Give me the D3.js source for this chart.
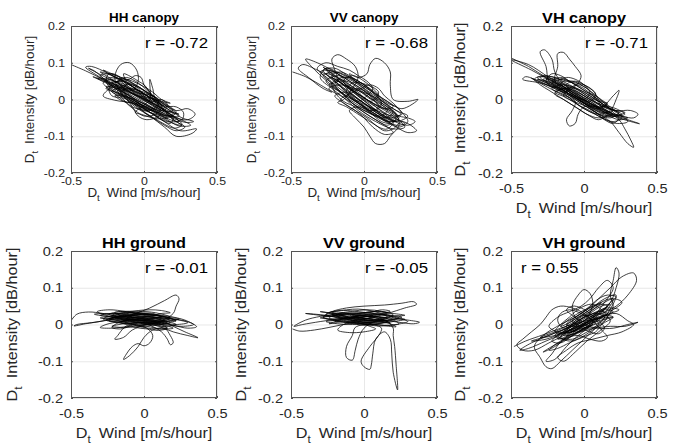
<!DOCTYPE html>
<html><head><meta charset="utf-8">
<script src="https://cdn.jsdelivr.net/npm/d3@7"></script>
<style>
body{margin:0;background:#fff}
text{font-family:"Liberation Sans",Arial,Helvetica,sans-serif;white-space:pre}
</style>
</head><body><svg id="c" width="681" height="445"></svg>
<script>
const xTicks=[-0.5,0,0.5];
const yTicks=[-0.2,-0.1,0,0.1,0.2];
const xTickLabels=["-0.5","0","0.5"];
const yTickLabels=["-0.2","-0.1","0","0.1","0.2"];
const titles=["HH canopy","VV canopy","VH canopy","HH ground","VV ground","VH ground"];
const rLabels=["r = -0.72","r = -0.68","r = -0.71","r = -0.01","r = -0.05","r = 0.55"];

const hhCanopy=[[-0.50,0.095],[-0.40,0.078],[-0.28,0.055],[-0.15,0.030],[-0.02,0.005],[0.10,-0.020],[0.20,-0.045],[0.24,-0.060],[0.18,-0.055],[0.06,-0.030],[-0.06,-0.005],[-0.18,0.025],[-0.30,0.060],[-0.40,0.088],[-0.36,0.090],[-0.24,0.070],[-0.12,0.045],[0.00,0.015],[0.12,-0.010],[0.22,-0.030],[0.30,-0.025],[0.35,-0.040],[0.30,-0.055],[0.18,-0.045],[0.05,-0.020],[-0.08,0.010],[-0.20,0.035],[-0.28,0.010],[-0.20,-0.002],[-0.08,-0.010],[0.02,-0.030],[0.12,-0.055],[0.25,-0.085],[0.36,-0.080],[0.33,-0.092],[0.22,-0.100],[0.14,-0.075],[0.04,-0.045],[-0.06,-0.020],[-0.15,0.015],[-0.20,0.060],[-0.16,0.095],[-0.10,0.100],[-0.05,0.080],[-0.04,0.050],[-0.08,0.025],[-0.16,0.035],[-0.26,0.050],[-0.35,0.062],[-0.26,0.045],[-0.12,0.015],[0.00,-0.012],[0.10,-0.035],[0.16,-0.050],[0.08,-0.052],[-0.02,-0.040],[-0.06,-0.035],[-0.01,-0.018],[0.04,0.000],[0.04,0.040],[0.04,0.055],[0.06,0.030],[0.08,0.000],[0.14,-0.018],[0.22,-0.020],[0.27,-0.035],[0.26,-0.055],[0.16,-0.060],[0.06,-0.040],[-0.04,-0.010],[-0.14,0.020],[-0.24,0.045],[-0.34,0.078],[-0.38,0.085],[-0.30,0.068],[-0.18,0.045],[-0.06,0.020],[0.06,-0.008],[0.16,-0.035],[0.26,-0.068],[0.21,-0.078],[0.10,-0.058],[-0.02,-0.028],[-0.12,0.002],[-0.22,0.022],[-0.14,0.032],[-0.02,0.008],[0.08,-0.015],[0.18,-0.040],[0.28,-0.060],[0.32,-0.070],[0.24,-0.072],[0.12,-0.045],[0.00,-0.020],[-0.10,0.012],[-0.22,0.040],[-0.32,0.058],[-0.22,0.052],[-0.10,0.030],[0.02,0.010],[0.14,-0.012],[0.20,-0.030],[0.12,-0.030],[0.00,-0.002],[-0.12,0.028],[-0.24,0.060],[-0.30,0.075],[-0.20,0.062],[-0.08,0.040],[0.04,0.015],[0.16,-0.020],[0.24,-0.045],[0.16,-0.045],[0.04,-0.025],[-0.08,0.000],[-0.18,0.018],[-0.26,0.030],[-0.18,0.040],[-0.05,0.020],[0.06,-0.004],[0.18,-0.030],[0.26,-0.050],[0.34,-0.060],[0.28,-0.062],[0.14,-0.040],[0.02,-0.015],[-0.10,0.005],[-0.20,0.010],[-0.14,-0.005],[-0.04,-0.012],[0.06,-0.025],[0.12,-0.030],[0.05,-0.010],[-0.06,0.015],[-0.16,0.050],[-0.28,0.080],[-0.22,0.070],[-0.10,0.050],[0.00,0.025],[0.08,0.005],
[0,.02],[-.08,.03],[-.16,.045],[-.22,.05],[-.18,.035],[-.1,.02],[-.02,0],[.06,-.015],[.12,-.03],[.18,-.045],[.12,-.04],[.04,-.02],[-.04,-.005],[-.12,.015],[-.2,.03],[-.26,.055],[-.2,.06],[-.12,.045],[-.04,.025],[.04,.005],[.1,-.01],[.16,-.025],[.2,-.04],[.14,-.045],[.06,-.03],[-.02,-.015],[-.1,.005],[-.18,.02],[-.24,.04],[-.16,.05],[-.08,.035],[0,.015],[.08,-.005],[.14,-.02],[.1,-.035],[.02,-.025],[-.06,-.01],[-.14,.01],[-.22,.025],[-.28,.045],[-.22,.055],[-.14,.055],[-.06,.04],[.02,.02],[.1,0],[.18,-.02],[.22,-.035],[.16,-.05],[.08,-.04],[0,-.03],[-.08,-.02],[-.14,0],[-.18,.025],[-.12,.04],[-.04,.035],[.04,.01],[.1,-.015],[.06,-.03],[-.02,-.02],[-.1,-.005],[-.16,.02],[-.1,.03],[-.02,.02],[.06,0],[.14,-.03],[.2,-.055],[.26,-.07],[.2,-.065],[.12,-.05],[.04,-.035],[-.04,-.015],[-.12,.01],[-.2,.04],[-.3,.065],[-.24,.07],[-.16,.06],[-.08,.05],[0,.035],[.06,.02],[.12,0],[.18,-.01],[.12,-.005],[.04,.005],[-.04,.01],[-.12,.025],[-.18,.05],[-.12,.06],[-.04,.045],[.02,.025],[.08,0],[.12,-.02],[.08,-.04],[0,-.045],[-.06,-.03],[-.12,-.01],[-.2,.015],[-.26,.035],[-.18,.03],[-.08,.015],[.02,-.005],[.1,-.025],[.18,-.035],[.24,-.04],[.16,-.03],[.06,-.01],[-.04,.01],[-.14,.03],[-.2,.045],[-.14,.05],[-.06,.03],[.02,.01],[.06,-.01],
[.02,0],[-.04,.03],[-.1,.045],[-.14,.03],[-.1,0],[-.04,-.02],[.02,-.03],[.08,-.02],[.1,0],[.06,.01],[0,.015],[-.06,.02],[-.12,.04],[-.18,.065],[-.24,.07],[-.26,.05],[-.2,.02],[-.12,.005],[-.06,-.01],[0,-.025],[.06,-.04],[.14,-.06],[.18,-.065],[.2,-.05],[.14,-.03],[.08,-.01],[.04,.02],[0,.04],[-.04,.05],[-.08,.06],[-.14,.07],[-.12,.05],[-.06,.03],[0,.005],[.06,-.005],[.12,0],[.16,-.015],[.1,-.045],[.02,-.055],[-.04,-.045],[-.08,-.02],[-.12,0],[-.16,.005],[-.22,.01],[-.24,.03],[-.18,.05],[-.1,.055],[-.06,.065],[-.02,.06],[0,.04],[.04,.02],[.1,-.005],[.16,-.04],[.22,-.06],[.28,-.075],[.22,-.085],[.14,-.07],[.06,-.05],[0,-.035],[-.06,-.005]];

const vvCanopy=[[-0.49,0.075],[-0.40,0.062],[-0.30,0.040],[-0.22,0.020],[-0.28,0.030],[-0.38,0.060],[-0.45,0.085],[-0.42,0.095],[-0.32,0.080],[-0.20,0.055],[-0.10,0.030],[0.00,0.005],[0.10,-0.025],[0.20,-0.050],[0.28,-0.065],[0.22,-0.070],[0.12,-0.050],[0.00,-0.020],[-0.12,0.010],[-0.24,0.045],[-0.36,0.090],[-0.40,0.110],[-0.32,0.100],[-0.20,0.075],[-0.08,0.045],[0.04,0.012],[0.14,-0.020],[0.24,-0.045],[0.30,-0.050],[0.35,-0.060],[0.30,-0.070],[0.18,-0.055],[0.06,-0.030],[-0.06,-0.005],[-0.16,0.020],[-0.24,0.040],[-0.18,0.050],[-0.20,0.080],[-0.22,0.110],[-0.18,0.122],[-0.12,0.110],[-0.06,0.090],[-0.04,0.060],[-0.08,0.030],[-0.14,0.000],[-0.18,-0.008],[-0.12,-0.020],[-0.02,-0.045],[0.08,-0.070],[0.14,-0.085],[0.20,-0.080],[0.26,-0.060],[0.36,-0.085],[0.30,-0.090],[0.22,-0.075],[0.10,-0.050],[-0.02,-0.025],[-0.12,0.000],[-0.22,0.030],[-0.30,0.060],[-0.26,0.085],[-0.16,0.070],[-0.04,0.045],[0.06,0.020],[0.16,-0.005],[0.26,-0.025],[0.37,0.000],[0.30,-0.005],[0.20,0.000],[0.18,0.040],[0.18,0.075],[0.14,0.100],[0.08,0.112],[0.04,0.095],[0.02,0.070],[-0.04,0.060],[-0.10,0.070],[-0.06,0.050],[0.02,0.025],[0.12,-0.002],[0.22,-0.030],[0.30,-0.045],[0.22,-0.060],[0.10,-0.040],[0.00,-0.010],[-0.10,0.020],[-0.20,0.050],[-0.28,0.080],[-0.20,0.085],[-0.08,0.055],[0.04,0.025],[0.14,-0.010],[0.22,-0.040],[0.24,-0.070],[0.18,-0.100],[0.14,-0.120],[0.08,-0.120],[0.04,-0.100],[0.00,-0.075],[-0.06,-0.050],[-0.10,-0.030],[-0.04,-0.020],[0.06,-0.035],[0.16,-0.060],[0.24,-0.055],[0.16,-0.030],[0.04,-0.005],[-0.08,0.025],[-0.18,0.060],[-0.28,0.088],[-0.22,0.070],[-0.12,0.040],[-0.02,0.010],[0.08,-0.015],[0.20,-0.045],[0.28,-0.075],[0.20,-0.080],[0.08,-0.060],[-0.04,-0.030],[-0.14,0.005],[-0.24,0.030],[-0.16,0.040],[-0.04,0.025],[0.08,0.005],[0.18,-0.020],[0.25,-0.040],[0.18,-0.050],[0.06,-0.025],[-0.06,0.000],[-0.16,0.035],[-0.26,0.070],[-0.18,0.060],[-0.06,0.030],[0.06,0.000],[0.16,-0.030],[0.10,-0.045],[-0.02,-0.015],[-0.12,0.020],[-0.08,0.045],[0.02,0.040],[0.10,0.020],[0.06,0.000],
[-.02,.02],[-.1,.04],[-.18,.07],[-.26,.08],[-.2,.06],[-.12,.035],[-.04,.01],[.04,-.015],[.12,-.04],[.2,-.06],[.16,-.07],[.08,-.055],[0,-.035],[-.08,-.01],[-.16,.02],[-.24,.055],[-.3,.075],[-.24,.08],[-.14,.06],[-.06,.04],[.02,.02],[.1,-.005],[.18,-.025],[.24,-.05],[.18,-.06],[.1,-.045],[.02,-.025],[-.06,0],[-.14,.03],[-.2,.045],[-.12,.05],[-.04,.03],[.04,.005],[.12,-.02],[.2,-.035],[.14,-.05],[.06,-.04],[-.02,-.02],[-.1,0],[-.18,.025],[-.26,.05],[-.18,.065],[-.1,.055],[-.02,.035],[.06,.01],[.14,-.015],[.22,-.045],[.16,-.08],[.1,-.075],[.02,-.05],[-.06,-.03],[-.14,-.01],[-.2,.01],[-.12,.02],[-.04,0],[.04,-.02],[.12,-.045],[.18,-.065],[.12,-.06],[.04,-.035],[-.04,-.01],[-.12,.015],[-.2,.04],[-.28,.065],[-.2,.075],[-.12,.065],[-.04,.05],[.04,.03],[.12,.005],[.2,-.02],[.14,-.025],[.06,-.01],[-.02,.01],[-.1,.03],[-.18,.055],[-.1,.06],[-.02,.045],[.06,.02],[.12,-.01],[.08,-.03],[0,-.01],[-.08,.015],[-.16,.045],[-.22,.06],[-.14,.04],[-.06,.015],[.02,-.01],[.1,-.035],[.16,-.05],[.22,-.06],[.16,-.045],[.08,-.02],[0,0],[-.08,.025],[-.14,.05],[-.08,.065],[0,.05],[.06,.03],[.1,.01],[.04,-.005],[-.04,.02],
[-.1,.035],[-.16,.055],[-.22,.045],[-.2,.02],[-.14,-.005],[-.06,-.02],[.02,-.04],[.1,-.06],[.16,-.075],[.2,-.09],[.14,-.095],[.06,-.075],[0,-.05],[-.06,-.03],[-.12,-.015],[-.16,0],[-.1,.015],[-.02,.03],[.04,.04],[.1,.03],[.14,.01],[.2,-.01],[.26,-.035],[.3,-.06],[.24,-.075],[.16,-.06],[.08,-.045],[0,-.03],[-.08,-.01],[-.14,.015],[-.2,.035],[-.26,.06],[-.32,.085],[-.26,.1],[-.18,.09],[-.1,.08],[-.04,.065],[.02,.05],[.06,.03],[.02,.01],[-.04,-.005],[-.1,.01],[-.16,.035],[-.22,.065],[-.16,.075],[-.08,.06],[0,.04],[.08,.015],[.16,-.01],[.22,-.02],[.26,-.04],[.2,-.045],[.12,-.035],[.04,-.02],[-.04,0],[-.1,.02],[-.04,.03],[.04,.01],[.1,-.02],[.04,-.03],[-.02,-.01]];

const vhCanopy=[[-0.50,0.113],[-0.38,0.090],[-0.26,0.060],[-0.14,0.035],[-0.02,0.010],[0.10,-0.020],[0.04,-0.010],[-0.10,0.025],[-0.24,0.060],[-0.38,0.095],[-0.50,0.108],[-0.36,0.080],[-0.22,0.050],[-0.10,0.025],[0.02,0.000],[0.14,-0.030],[0.24,-0.045],[0.30,-0.050],[0.24,-0.055],[0.12,-0.035],[0.00,-0.010],[-0.12,0.015],[-0.26,0.040],[-0.40,0.062],[-0.42,0.055],[-0.30,0.045],[-0.18,0.030],[-0.06,0.005],[0.06,-0.020],[0.18,-0.040],[0.30,-0.055],[0.38,-0.066],[0.32,-0.060],[0.20,-0.045],[0.08,-0.025],[-0.04,0.000],[-0.16,0.030],[-0.24,0.050],[-0.26,0.090],[-0.30,0.130],[-0.27,0.135],[-0.22,0.110],[-0.20,0.075],[-0.16,0.050],[-0.10,0.030],[0.00,0.010],[0.12,-0.015],[0.22,-0.030],[0.32,-0.030],[0.37,-0.040],[0.34,-0.050],[0.26,-0.045],[0.14,-0.030],[0.02,-0.010],[-0.10,0.020],[-0.20,0.050],[-0.18,0.090],[-0.18,0.125],[-0.14,0.128],[-0.10,0.110],[-0.06,0.090],[-0.02,0.065],[-0.04,0.045],[-0.08,0.030],[-0.14,0.020],[-0.20,0.030],[-0.28,0.045],[-0.36,0.058],[-0.28,0.040],[-0.16,0.015],[-0.06,-0.005],[-0.08,-0.030],[-0.12,-0.055],[-0.10,-0.072],[-0.06,-0.065],[-0.04,-0.040],[0.00,-0.020],[0.08,-0.020],[0.16,-0.030],[0.24,-0.055],[0.28,-0.080],[0.32,-0.110],[0.34,-0.130],[0.30,-0.120],[0.24,-0.090],[0.18,-0.060],[0.10,-0.040],[0.00,-0.010],[-0.10,0.015],[-0.22,0.040],[-0.32,0.055],[-0.22,0.045],[-0.10,0.020],[0.02,-0.005],[0.12,-0.020],[0.20,0.010],[0.24,0.025],[0.22,0.000],[0.18,-0.030],[0.10,-0.040],[0.00,-0.025],[-0.10,0.005],[-0.20,0.035],[-0.30,0.060],[-0.22,0.062],[-0.10,0.040],[0.02,0.015],[0.12,-0.010],[0.22,-0.035],[0.30,-0.060],[0.22,-0.065],[0.10,-0.045],[-0.02,-0.020],[-0.12,0.010],[-0.22,0.030],[-0.14,0.040],[-0.02,0.025],[0.08,0.000],[0.18,-0.025],[0.26,-0.040],[0.18,-0.040],[0.06,-0.015],[-0.06,0.010],[-0.16,0.045],[-0.08,0.050],[0.02,0.030],[0.10,0.005],[0.16,-0.015],[0.08,-0.020],[-0.02,0.000],
[-.1,.02],[-.18,.04],[-.26,.055],[-.2,.05],[-.12,.03],[-.04,.01],[.04,-.01],[.12,-.025],[.2,-.04],[.14,-.045],[.06,-.03],[-.02,-.01],[-.1,.01],[-.18,.03],[-.26,.045],[-.32,.06],[-.24,.06],[-.16,.045],[-.08,.03],[0,.01],[.08,-.01],[.16,-.025],[.24,-.035],[.18,-.05],[.1,-.04],[.02,-.02],[-.06,0],[-.14,.025],[-.22,.045],[-.14,.055],[-.06,.04],[.02,.02],[.1,0],[.18,-.02],[.26,-.05],[.2,-.06],[.12,-.05],[.04,-.03],[-.04,-.015],[-.12,.005],[-.2,.02],[-.12,.03],[-.04,.02],[.04,0],[.12,-.015],[.2,-.03],[.12,-.035],[.04,-.02],[-.04,0],[-.12,.02],[-.2,.04],[-.28,.055],[-.2,.055],[-.12,.04],[-.04,.025],[.04,.005],[.12,-.02],[.18,-.04],[.1,-.05],[.02,-.04],[-.06,-.02],[-.14,0],[-.2,.015],[-.14,.03],[-.06,.03],[.02,.01],[.1,-.005],[.16,-.01],[.1,-.025],[.02,-.015],[-.06,.005],[-.14,.035],[-.22,.05],[-.16,.06],[-.08,.045],[0,.03],[.06,.01],[.14,-.015],[.22,-.025],[.28,-.04],[.2,-.045],[.12,-.03],[.04,-.01],[-.04,.015],[-.12,.04],[-.06,.05],[.02,.035],[.08,.015],[.04,-.005],[-.04,.005],
[-.1,.015],[-.16,.03],[-.22,.035],[-.26,.05],[-.22,.07],[-.16,.065],[-.1,.05],[-.04,.035],[.02,.02],[.08,.01],[.14,-.01],[.2,-.035],[.24,-.05],[.2,-.065],[.14,-.055],[.08,-.035],[.02,-.02],[-.04,-.01],[-.1,0],[-.14,.01],[-.1,.03],[-.04,.04],[.02,.03],[.08,.005],[.12,-.02],[.16,-.04],[.1,-.055],[.04,-.045],[-.02,-.03],[-.08,-.015],[-.16,.005],[-.24,.025],[-.3,.04],[-.34,.055],[-.28,.065],[-.2,.06],[-.12,.05],[-.06,.045],[0,.04],[.06,.025],[.1,0],[.14,-.02],[.22,-.03],[.28,-.035],[.22,-.045],[.16,-.045],[.08,-.03],[0,-.01],[-.06,.01],[-.12,.035],[-.18,.05],[-.12,.06],[-.06,.055],[0,.04],[.04,.02],[0,0],[-.06,.015]];

const hhGround=[[-0.50,0.010],[-0.46,0.028],[-0.38,0.034],[-0.28,0.030],[-0.18,0.022],[-0.08,0.015],[0.02,0.010],[0.12,0.005],[0.22,0.000],[0.30,0.005],[0.24,0.012],[0.12,0.018],[0.00,0.020],[-0.12,0.018],[-0.24,0.012],[-0.36,0.005],[-0.46,0.000],[-0.48,-0.004],[-0.40,0.002],[-0.28,0.010],[-0.16,0.025],[-0.04,0.035],[0.08,0.032],[0.18,0.022],[0.28,0.012],[0.36,-0.006],[0.30,-0.010],[0.20,-0.002],[0.08,0.008],[-0.04,0.012],[-0.16,0.008],[-0.26,0.000],[-0.30,-0.008],[-0.22,-0.010],[-0.10,-0.005],[0.02,0.000],[0.12,0.010],[0.20,0.030],[0.22,0.050],[0.24,0.070],[0.22,0.080],[0.14,0.065],[0.04,0.045],[-0.06,0.030],[-0.16,0.020],[-0.26,0.025],[-0.32,0.035],[-0.24,0.040],[-0.12,0.035],[0.00,0.025],[0.10,0.015],[0.20,-0.005],[0.28,-0.020],[0.37,-0.036],[0.30,-0.030],[0.20,-0.020],[0.10,-0.005],[0.00,0.005],[-0.10,0.008],[-0.20,0.015],[-0.30,0.018],[-0.20,0.012],[-0.08,0.002],[0.02,-0.010],[0.06,-0.030],[0.04,-0.050],[0.00,-0.058],[-0.04,-0.052],[-0.08,-0.060],[-0.12,-0.080],[-0.14,-0.095],[-0.10,-0.085],[-0.04,-0.060],[0.00,-0.035],[0.06,-0.015],[0.14,-0.010],[0.18,-0.030],[0.20,-0.050],[0.18,-0.055],[0.16,-0.040],[0.12,-0.020],[0.04,-0.002],[-0.06,0.010],[-0.16,0.015],[-0.26,0.022],[-0.34,0.028],[-0.26,0.030],[-0.14,0.028],[-0.02,0.022],[0.10,0.020],[0.20,0.015],[0.28,0.010],[0.34,0.000],[0.26,-0.005],[0.14,0.000],[0.02,0.006],[-0.10,0.000],[-0.14,-0.010],[-0.18,-0.030],[-0.20,-0.040],[-0.14,-0.035],[-0.08,-0.015],[0.02,0.000],[0.12,0.006],[0.22,0.010],[0.14,0.020],[0.02,0.028],[-0.10,0.025],[-0.22,0.020],[-0.14,0.015],[-0.02,0.010],[0.08,0.000],[0.16,-0.010],[0.08,-0.012],[-0.04,-0.005],[-0.12,0.005],[-0.24,0.010],[-0.18,0.020],[-0.06,0.018],[0.06,0.012],[0.16,0.005],[0.10,0.002],[-0.02,0.008],
[-.1,.015],[-.2,.02],[-.3,.025],[-.22,.03],[-.12,.028],[-.02,.02],[.08,.012],[.16,.008],[.22,0],[.14,-.005],[.04,0],[-.06,.005],[-.16,.01],[-.24,.015],[-.16,.022],[-.06,.025],[.04,.02],[.14,.015],[.22,.01],[.16,.02],[.06,.025],[-.04,.03],[-.14,.032],[-.22,.025],[-.14,.018],[-.04,.012],[.06,.005],[.14,-.002],[.2,-.01],[.12,-.012],[.02,-.005],[-.08,0],[-.18,.005],[-.26,.012],[-.18,.02],[-.08,.022],[.02,.018],[.12,.012],[.18,.005],[.1,0],[0,.004],[-.1,.01],[-.2,.018],[-.12,.025],[-.02,.028],[.08,.025],[.16,.02],[.24,.015],[.16,.01],[.06,.008],[-.04,.006],[-.14,.002],[-.22,-.005],[-.14,-.008],[-.04,-.006],[.06,-.002],[.14,.004],[.06,.012],[-.04,.018],[-.14,.022],[-.24,.028],[-.16,.035],[-.06,.03],[.04,.026],[.12,.022],[.04,.015],[-.06,.012],[-.16,.015],[-.08,.008],[.02,.004],[.1,.008],[.18,.016],[.1,.024],[0,.03],[-.1,.036],[-.2,.032],[-.12,.02],[-.02,.012],[.08,.006],[.02,0],
[-.04,.004],[-.1,-.005],[-.16,-.012],[-.22,-.008],[-.18,.004],[-.1,.014],[-.02,.02],[.06,.024],[.12,.03],[.18,.032],[.12,.038],[.04,.04],[-.04,.038],[-.12,.034],[-.18,.028],[-.1,.022],[-.02,.015],[.06,.01],[.12,0],[.16,-.01],[.1,-.016],[.02,-.012],[-.06,-.008],[-.12,0],[-.2,.008],[-.28,.015],[-.22,.024],[-.14,.03],[-.06,.032],[.02,.03],[.1,.026],[.18,.02],[.12,.014],[.04,.01],[-.04,.012],[-.12,.016],[-.08,.024],[0,.026],[.08,.02],[.14,.012],[.08,.004],[0,0],[-.08,.002],[-.16,.006],[-.1,.012],[-.02,.016],[.06,.016],[.12,.02],[.06,.03],[-.02,.03],[-.1,.024],[-.04,.016],[.04,.012]];

const vvGround=[[-0.49,-0.012],[-0.44,-0.018],[-0.34,-0.015],[-0.24,-0.008],[-0.14,0.000],[-0.04,0.008],[0.06,0.012],[0.16,0.010],[0.26,0.005],[0.34,0.002],[0.38,0.006],[0.30,0.012],[0.18,0.018],[0.06,0.022],[-0.06,0.020],[-0.18,0.015],[-0.30,0.008],[-0.42,0.000],[-0.48,-0.005],[-0.40,0.012],[-0.30,0.022],[-0.20,0.028],[-0.10,0.032],[0.00,0.028],[0.10,0.020],[0.20,0.012],[0.24,0.002],[0.14,-0.002],[0.04,0.002],[-0.08,0.006],[-0.20,0.012],[-0.28,0.020],[-0.22,0.035],[-0.12,0.045],[0.00,0.050],[0.14,0.053],[0.26,0.058],[0.34,0.062],[0.36,0.055],[0.28,0.045],[0.16,0.030],[0.06,0.020],[-0.04,0.012],[-0.14,0.000],[-0.18,-0.015],[-0.10,-0.022],[0.00,-0.020],[0.08,-0.012],[0.04,-0.005],[-0.06,0.008],[-0.16,0.018],[-0.26,0.025],[-0.40,0.030],[-0.30,0.025],[-0.18,0.020],[-0.06,0.018],[0.06,0.015],[0.16,0.008],[0.20,-0.010],[0.20,-0.030],[0.21,-0.060],[0.22,-0.110],[0.23,-0.178],[0.20,-0.130],[0.19,-0.080],[0.18,-0.040],[0.14,-0.020],[0.08,-0.040],[0.06,-0.080],[0.05,-0.110],[0.04,-0.122],[0.00,-0.115],[-0.02,-0.100],[0.04,-0.060],[0.10,-0.030],[0.12,-0.010],[0.04,0.000],[-0.06,-0.008],[-0.08,-0.030],[-0.12,-0.060],[-0.12,-0.090],[-0.08,-0.097],[-0.06,-0.070],[-0.04,-0.040],[0.00,-0.010],[0.08,0.010],[0.18,0.022],[0.28,0.025],[0.20,0.030],[0.08,0.035],[-0.04,0.030],[-0.16,0.025],[-0.28,0.020],[-0.20,0.010],[-0.08,0.004],[0.04,0.000],[0.14,0.006],[0.24,0.015],[0.30,0.008],[0.22,0.000],[0.10,-0.004],[-0.02,0.002],[-0.14,0.010],[-0.24,0.018],[-0.16,0.028],[-0.04,0.025],[0.08,0.018],[0.18,0.004],[0.10,0.008],[-0.02,0.015],[-0.12,0.022],[-0.22,0.030],[-0.12,0.012],[0.00,0.005],[0.12,-0.002],[0.22,-0.006],[0.12,0.010],[0.00,0.018],
[-.1,.025],[-.2,.03],[-.3,.035],[-.22,.03],[-.12,.022],[-.02,.015],[.08,.01],[.18,.012],[.24,.018],[.16,.025],[.06,.03],[-.04,.035],[-.14,.038],[-.24,.032],[-.16,.02],[-.06,.01],[.04,.005],[.14,.01],[.2,.02],[.12,.028],[.02,.026],[-.08,.02],[-.18,.012],[-.26,.008],[-.18,.002],[-.08,0],[.02,.004],[.12,.012],[.2,.026],[.12,.036],[.02,.04],[-.08,.036],[-.18,.028],[-.1,.018],[0,.012],[.1,.015],[.16,.022],[.08,.028],[-.02,.025],[-.12,.018],[-.22,.015],[-.3,.018],[-.2,.024],[-.1,.03],[0,.032],[.1,.028],[.2,.02],[.28,.014],[.2,.008],[.1,.002],[0,-.002],[-.1,.004],[-.2,.01],[-.12,.016],[-.02,.02],[.08,.022],[.14,.016],[.06,.01],[-.04,.012],[-.14,.02],[-.22,.026],[-.12,.03],[-.02,.026],[.08,.018],[.16,.008],[.08,.004],[-.02,.008],[-.1,.016],[-.04,.024],[.06,.024],[.02,.016],
[-.06,.02],[-.12,.012],[-.18,.006],[-.24,.002],[-.18,.01],[-.1,.02],[-.02,.028],[.06,.034],[.12,.04],[.18,.036],[.12,.03],[.04,.024],[-.04,.018],[-.12,.014],[-.2,.02],[-.26,.028],[-.2,.036],[-.12,.04],[-.04,.042],[.04,.038],[.12,.03],[.2,.024],[.26,.02],[.2,.014],[.12,.008],[.04,.006],[-.04,.004],[-.12,.006],[-.06,.012],[.02,.016],[.1,.02],[.16,.016],[.1,.01],[.02,.008],[-.06,.014],[-.14,.024],[-.22,.034],[-.14,.032],[-.06,.026],[.02,.022],[.1,.026],[.16,.032],[.08,.036],[0,.032],[-.08,.026],[-.02,.018],[.06,.014],[0,.01]];

const vhGround=[[-0.48,-0.060],[-0.40,-0.045],[-0.28,-0.028],[-0.16,-0.010],[-0.04,0.005],[0.08,0.015],[0.20,0.020],[0.10,0.010],[-0.02,-0.005],[-0.14,-0.025],[-0.26,-0.045],[-0.38,-0.065],[-0.44,-0.070],[-0.36,-0.050],[-0.24,-0.030],[-0.12,-0.010],[0.00,0.010],[0.12,0.030],[0.22,0.050],[0.30,0.080],[0.36,0.120],[0.34,0.140],[0.26,0.130],[0.18,0.100],[0.10,0.070],[0.02,0.040],[-0.06,0.020],[-0.16,0.000],[-0.28,-0.030],[-0.34,-0.060],[-0.30,-0.090],[-0.26,-0.115],[-0.22,-0.120],[-0.16,-0.100],[-0.08,-0.070],[0.00,-0.040],[0.08,-0.010],[0.16,0.020],[0.20,0.050],[0.18,0.080],[0.20,0.120],[0.22,0.155],[0.24,0.140],[0.22,0.100],[0.18,0.060],[0.10,0.030],[0.00,0.000],[-0.10,-0.030],[-0.20,-0.060],[-0.28,-0.075],[-0.22,-0.060],[-0.12,-0.040],[-0.02,-0.020],[0.08,-0.010],[0.18,-0.005],[0.28,-0.005],[0.37,0.006],[0.30,0.000],[0.20,-0.010],[0.10,-0.010],[0.00,0.000],[-0.06,0.020],[-0.08,0.050],[-0.04,0.080],[0.00,0.095],[0.04,0.085],[0.06,0.060],[0.04,0.030],[0.00,0.010],[-0.08,-0.005],[-0.18,-0.020],[-0.28,-0.035],[-0.36,-0.045],[-0.26,-0.040],[-0.16,-0.025],[-0.06,-0.010],[0.04,0.008],[0.14,0.025],[0.24,0.040],[0.16,0.045],[0.06,0.030],[-0.04,0.010],[-0.14,-0.010],[-0.18,0.010],[-0.16,0.030],[-0.10,0.040],[-0.02,0.030],[0.06,0.010],[0.12,-0.015],[0.16,-0.035],[0.12,-0.045],[0.04,-0.040],[-0.04,-0.030],[-0.14,-0.040],[-0.22,-0.080],[-0.26,-0.100],[-0.20,-0.095],[-0.12,-0.060],[-0.04,-0.030],[0.06,0.000],[0.16,0.030],[0.26,0.060],[0.20,0.070],[0.10,0.050],[0.00,0.025],[-0.10,0.000],[-0.20,-0.020],[-0.30,-0.035],[-0.20,-0.030],[-0.08,-0.012],[0.02,0.005],[0.12,0.020],[0.20,0.035],[0.14,0.040],[0.04,0.020],[-0.06,-0.005],[-0.14,-0.030],[-0.06,-0.025],[0.04,-0.005],[0.12,0.010],[0.22,0.080],[0.14,0.070],[0.04,0.040],[-0.06,0.010],[-0.12,-0.020],[-0.04,-0.015],[0.06,0.000],
[-.02,-.015],[-.1,-.03],[-.18,-.04],[-.12,-.02],[-.04,0],[.04,.02],[.12,.04],[.18,.055],[.12,.05],[.04,.03],[-.04,.01],[-.12,-.01],[-.2,-.03],[-.14,-.04],[-.06,-.025],[.02,-.005],[.1,.015],[.16,.03],[.1,.035],[.02,.02],[-.06,0],[-.14,-.02],[-.22,-.045],[-.16,-.05],[-.08,-.03],[0,-.01],[.08,.01],[.16,.04],[.2,.07],[.14,.065],[.06,.045],[-.02,.025],[-.1,.005],[-.16,-.005],[-.1,.015],[-.02,.035],[.06,.05],[.12,.06],[.06,.04],[-.02,.015],[-.1,-.01],[-.18,-.03],[-.1,-.045],[-.02,-.035],[.06,-.015],[.14,.005],[.2,.02],[.14,.025],[.06,.015],[-.02,0],[-.1,-.015],[-.16,-.035],[-.08,-.04],[0,-.025],[.08,-.005],[.14,.02],[.08,.03],[0,.02],[-.08,0],[-.14,-.02],[-.06,-.01],[.02,.01],[.1,.03],[.16,.05],[.1,.055],[.02,.04],[-.06,.02],[-.12,0],[-.04,-.005],[.04,.01],[.1,.02],[.04,.005],[-.04,-.01],[-.12,-.03],[-.04,-.02],[.04,0],
[-.02,.01],[-.08,.025],[-.12,.04],[-.08,.05],[-.02,.045],[.04,.03],[.1,.01],[.14,-.01],[.1,-.025],[.04,-.02],[-.02,-.01],[-.08,-.02],[-.14,-.04],[-.2,-.055],[-.24,-.07],[-.18,-.065],[-.1,-.05],[-.04,-.04],[.02,-.03],[.08,-.02],[.12,0],[.16,.02],[.12,.04],[.06,.055],[0,.05],[-.06,.035],[-.1,.02],[-.16,0],[-.2,-.02],[-.14,-.025],[-.06,-.015],[.02,0],[.08,.02],[.14,.04],[.18,.06],[.22,.075],[.16,.08],[.1,.07],[.04,.05],[-.02,.03],[-.08,.01],[-.02,-.005],[.04,-.01],[.1,0],[.06,.02],[0,.025],[-.06,.015],[-.12,-.005],[-.06,-.02],[0,-.015],[.06,.005],
[0,.03],[-.08,.045],[-.16,.05],[-.22,.04],[-.26,.02],[-.3,0],[-.36,-.02],[-.42,-.04],[-.46,-.055],[-.42,-.07],[-.34,-.07],[-.24,-.05],[-.14,-.03],[-.04,-.01],[.06,.02],[.14,.06],[.2,.1],[.16,.12],[.1,.1],[.04,.07],[-.02,.05],[-.1,.035],[-.18,.02],[-.24,-.005],[-.18,-.02],[-.08,-.02],[.02,0],[.12,.02],[.22,.03],[.3,.01],[.34,0],[.26,-.02],[.16,-.03],[.06,-.04],[-.04,-.05],[-.12,-.07],[-.18,-.09],[-.14,-.1],[-.06,-.075],[.02,-.045],[.1,-.02],[.18,.01],[.12,.03],[.04,.02]];

const series=[hhCanopy,vvCanopy,vhCanopy,hhGround,vvGround,vhGround];

// layout (positions / styles only)
const BW=146, BH=147, SX=1.12;
const layout=[
  {x0:71, y0:26, big:false, ylx:34, rLeft:false},
  {x0:291,y0:26, big:false, ylx:256,rLeft:false},
  {x0:511,y0:26, big:true,  ylx:465,rLeft:false},
  {x0:71, y0:251,big:true,  ylx:17, rLeft:false},
  {x0:291,y0:251,big:true,  ylx:246,rLeft:false},
  {x0:511,y0:251,big:true,  ylx:465,rLeft:true}
];
const styleSmall={title:12,tick:11,label:12,xPad:4,yPad:6,titleDy:-4,xlDy:24};
const styleBig={title:14.5,tick:13,label:14.5,xPad:11,yPad:8,titleDy:-3,xlDy:40};

const svg=d3.select("#c");
svg.append("rect").attr("width",681).attr("height",445).attr("fill","#fff");
const defs=svg.append("defs");

function sText(parent,x,y,rot){
  return parent.append("text")
    .attr("transform",`translate(${x},${y}) rotate(${rot||0}) scale(${SX},1)`);
}
function subLabel(t,fs,rest){
  t.append("tspan").text("D");
  t.append("tspan").attr("font-size",fs*0.72).attr("dy",fs*0.32).text("t");
  t.append("tspan").attr("dy",-fs*0.32).attr("dx",fs*0.5).text(rest);
}

layout.forEach((L,i)=>{
  const S=L.big?styleBig:styleSmall;
  const x=d3.scaleLinear().domain([-0.5,0.5]).range([L.x0,L.x0+BW]);
  const y=d3.scaleLinear().domain([-0.2,0.2]).range([L.y0+BH,L.y0]);
  const g=svg.append("g");

  // grid
  const gx=g.append("g").attr("transform",`translate(0,${L.y0+BH})`)
    .call(d3.axisBottom(x).tickValues(xTicks).tickSize(-BH).tickFormat(""));
  gx.select(".domain").remove();
  gx.selectAll("line").attr("stroke","#dedede").attr("stroke-width",0.7);
  const gy=g.append("g").attr("transform",`translate(${L.x0},0)`)
    .call(d3.axisLeft(y).tickValues(yTicks).tickSize(-BW).tickFormat(""));
  gy.select(".domain").remove();
  gy.selectAll("line").attr("stroke","#dedede").attr("stroke-width",0.7);

  // clip + trace
  defs.append("clipPath").attr("id","clip"+i).append("rect")
    .attr("x",L.x0).attr("y",L.y0).attr("width",BW).attr("height",BH);
  const line=d3.line().x(d=>x(d[0])).y(d=>y(d[1])).curve(d3.curveCatmullRom.alpha(0.5));
  g.append("path").datum(series[i]).attr("clip-path",`url(#clip${i})`)
    .attr("d",line).attr("fill","none").attr("stroke","#000").attr("stroke-width",0.75)
    .attr("stroke-linejoin","round");

  // tick marks (inward, all sides)
  const tk=[
    [d3.axisBottom(x).tickValues(xTicks).tickSize(-2),`translate(0,${L.y0+BH})`],
    [d3.axisTop(x).tickValues(xTicks).tickSize(-2),`translate(0,${L.y0})`],
    [d3.axisLeft(y).tickValues(yTicks).tickSize(-2),`translate(${L.x0},0)`],
    [d3.axisRight(y).tickValues(yTicks).tickSize(-2),`translate(${L.x0+BW},0)`]
  ];
  tk.forEach(([ax,tr])=>{
    const a=g.append("g").attr("transform",tr).call(ax.tickFormat(""));
    a.select(".domain").remove();
    a.selectAll("line").attr("stroke","#262626").attr("stroke-width",0.8);
  });

  // box
  g.append("rect").attr("x",L.x0+0.5).attr("y",L.y0+0.5).attr("width",BW-1).attr("height",BH-1)
    .attr("fill","none").attr("stroke","#555").attr("stroke-width",1);

  // tick labels
  const xl=g.append("g").attr("transform",`translate(0,${L.y0+BH})`)
    .call(d3.axisBottom(x).tickValues(xTicks).tickSize(0).tickPadding(S.xPad)
      .tickFormat((d,j)=>xTickLabels[j]));
  xl.select(".domain").remove();
  xl.selectAll("text").attr("font-size",S.tick).attr("fill","#262626")
    .attr("font-family","Liberation Sans, Arial, sans-serif").attr("transform",`scale(${SX},1)`);
  const yl=g.append("g").attr("transform",`translate(${L.x0},0)`)
    .call(d3.axisLeft(y).tickValues(yTicks).tickSize(0).tickPadding(S.yPad/SX)
      .tickFormat((d,j)=>yTickLabels[j]));
  yl.select(".domain").remove();
  yl.selectAll("text").attr("font-size",S.tick).attr("fill","#262626")
    .attr("font-family","Liberation Sans, Arial, sans-serif").attr("transform",`scale(${SX},1)`);

  // title
  sText(g,L.x0+BW/2,L.y0+S.titleDy).attr("text-anchor","middle")
    .attr("font-size",S.title).attr("font-weight","bold").attr("fill","#000").text(titles[i]);

  // r
  if(L.rLeft){
    sText(g,L.x0+10,L.y0+22).attr("text-anchor","start").attr("font-size",15).attr("fill","#000").text(rLabels[i]);
  } else {
    sText(g,L.x0+BW-9,L.y0+22).attr("text-anchor","end").attr("font-size",15).attr("fill","#000").text(rLabels[i]);
  }

  // x label
  const xt=sText(g,L.x0+BW/2,L.y0+BH+S.xlDy).attr("text-anchor","middle")
    .attr("font-size",S.label).attr("fill","#262626");
  subLabel(xt,S.label,"Wind [m/s/hour]");
  // y label
  const yt=sText(g,L.ylx,L.y0+BH/2,-90).attr("text-anchor","middle")
    .attr("font-size",S.label).attr("fill","#262626");
  subLabel(yt,S.label,"Intensity [dB/hour]");
});
</script>
</body></html>
